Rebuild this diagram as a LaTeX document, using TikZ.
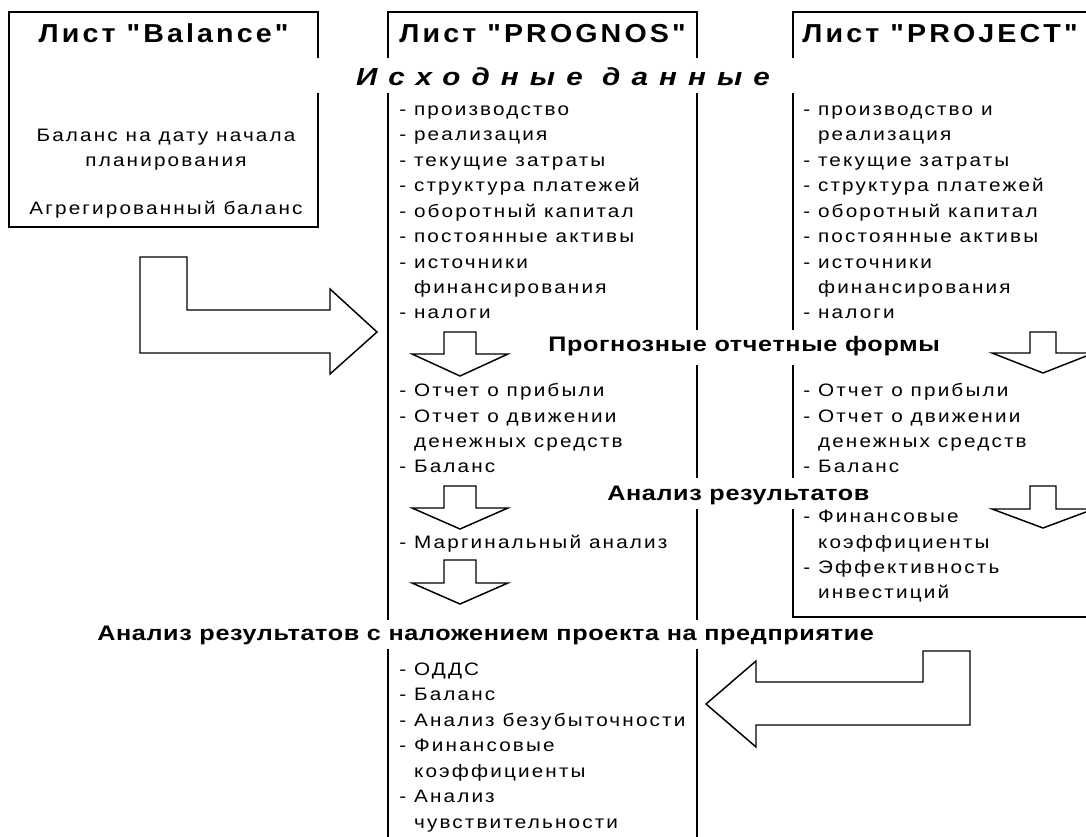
\documentclass[tikz,border=0pt]{standalone}
\usepackage{fontspec}
\setmainfont{Liberation Sans}
\newfontfamily\listfont[FakeStretch=1.15,LetterSpace=12]{Liberation Sans}
\newfontfamily\titlefont[FakeStretch=1.1,LetterSpace=12]{Liberation Sans}
\newfontfamily\bandfont[FakeStretch=1.2,LetterSpace=3]{Liberation Sans}
\newfontfamily\srcfont[FakeStretch=1.2,LetterSpace=45]{Liberation Sans}

\begin{document}
\begin{tikzpicture}
[
    x=0.75pt, y=-0.75pt,
    frame/.style={line width=1.4pt},
    blockarrow/.style={draw, fill=white, line width=1.1pt, line join=miter},
    band/.style={fill=white},
    sheet/.style={font=\titlefont\bfseries\fontsize{19.5}{22}\selectfont, inner sep=0pt, anchor=base},
    items/.style={font=\listfont\fontsize{13.5}{19.1}\selectfont, align=left, inner sep=0pt, anchor=base west},
    stage/.style={font=\bandfont\bfseries\fontsize{15.75}{18}\selectfont, inner sep=0pt, anchor=base west},
]
\useasboundingbox (0,0) rectangle (1086,837);
\clip (0,0) rectangle (1086,837);

% sheets
\draw[frame] (9,12) rectangle (318,227);
\draw[frame] (388,840) -- (388,12) -- (697,12) -- (697,840);
\draw[frame] (1100,12) -- (793,12) -- (793,617) -- (1100,617);

% white bands under the stage titles
\fill[band] (313,58) rectangle (800,93);
\fill[band] (540,330) rectangle (945,365);
\fill[band] (600,478) rectangle (880,509);
\fill[band] (85,620) rectangle (915,649);

% big arrows
\draw[blockarrow] (140,257) -- (187,257) -- (187,310) -- (330,310) -- (330,289) -- (377,332) -- (330,374) -- (330,353) -- (140,353) -- cycle;
\draw[blockarrow] (970,651) -- (970,725) -- (756,725) -- (756,747) -- (706,704) -- (756,661) -- (756,682) -- (923,682) -- (923,651) -- cycle;

% small arrows
\foreach \cx/\sw/\hw/\ya/\yb/\yc in {460/16/48/332/354/376, 460/16/48/486/508/529, 460/16/48/560/583/604, 1043/13/51/332/353/373, 1043/13/51/486/509/528}
  \draw[blockarrow] (\cx-\sw,\ya) -- (\cx+\sw,\ya) -- (\cx+\sw,\yb) -- (\cx+\hw,\yb) -- (\cx,\yc) -- (\cx-\hw,\yb) -- (\cx-\sw,\yb) -- cycle;

% titles
\node[sheet] (balance) at (163.5,43) {Лист "Balance"};
\node[sheet] (prognos) at (542.5,43) {Лист "PROGNOS"};
\node[sheet] (project) at (940,43) {Лист "PROJECT"};

% multi-line nodes sit on the baseline of their last line
\node[items, align=center, anchor=base] (start) at (166,167) {Баланс на дату начала\\планирования};
\node[items, anchor=base] (aggr) at (166,215) {Агрегированный баланс};

\node[font=\srcfont\bfseries\itshape\fontsize{18.5}{20}\selectfont, inner sep=0pt, anchor=base] (source) at (563,86) {Исходные данные};
\node[stage] (forms) at (548,352) {Прогнозные отчетные формы};
\node[stage] (results) at (607,501) {Анализ результатов};
\node[stage] (overlay) at (97,641) {Анализ результатов с наложением проекта на предприятие};

% lists
\node[items] (pgin) at (399,319) {- производство\\- реализация\\- текущие затраты\\- структура платежей\\- оборотный капитал\\- постоянные активы\\- источники\\\hphantom{- }финансирования\\- налоги};
\node[items] (pjin) at (803,319) {- производство и\\\hphantom{- }реализация\\- текущие затраты\\- структура платежей\\- оборотный капитал\\- постоянные активы\\- источники\\\hphantom{- }финансирования\\- налоги};
\node[items] (pgforms) at (399,473) {- Отчет о прибыли\\- Отчет о движении\\\hphantom{- }денежных средств\\- Баланс};
\node[items] (pjforms) at (803,473) {- Отчет о прибыли\\- Отчет о движении\\\hphantom{- }денежных средств\\- Баланс};
\node[items] (pgres) at (399,549) {- Маргинальный анализ};
\node[items] (pjres) at (803,599) {- Финансовые\\\hphantom{- }коэффициенты\\- Эффективность\\\hphantom{- }инвестиций};
\node[items] (total) at (399,828) {- ОДДС\\- Баланс\\- Анализ безубыточности\\- Финансовые\\\hphantom{- }коэффициенты\\- Анализ\\\hphantom{- }чувствительности};
\end{tikzpicture}
\end{document}
